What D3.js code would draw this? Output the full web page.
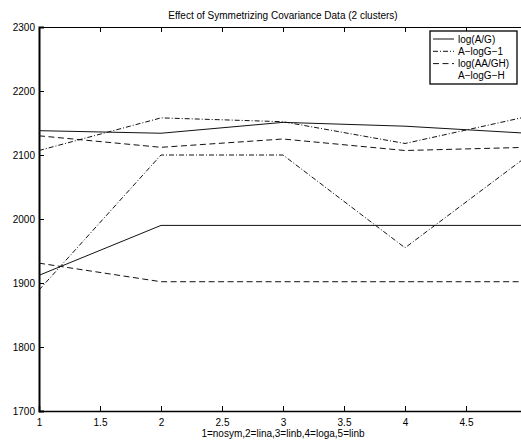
<!DOCTYPE html>
<html><head><meta charset="utf-8">
<script src="https://cdn.jsdelivr.net/npm/d3@7"></script>
<style>body{margin:0;background:#fff;} svg{display:block;}</style>
</head><body>
<script>
const title = "Effect of Symmetrizing Covariance Data (2 clusters)";
const xLabel = "1=nosym,2=lina,3=linb,4=loga,5=linb";
const xValues = [1, 2, 3, 4, 5];
const xTicks = [1, 1.5, 2, 2.5, 3, 3.5, 4, 4.5];
const yTicks = [1700, 1800, 1900, 2000, 2100, 2200, 2300];
const legendNames = ["log(A/G)", "A\u2212logG\u22121", "log(AA/GH)", "A\u2212logG\u2212H"];
const legendStyles = ["solid", "dashdot", "dashed", "none"];
const seriesSolidTop    = [2138, 2134, 2151, 2145, 2134];
const seriesDashDotTop  = [2107, 2158, 2152, 2118, 2160];
const seriesDashedTop   = [2130, 2112, 2125, 2107, 2112];
const seriesDashDotLow  = [1889, 2100, 2100, 1955, 2098];
const seriesSolidLow    = [1912, 1990, 1990, 1990, 1990];
const seriesDashedLow   = [1931, 1902, 1902, 1902, 1902];
const seriesList = [
  {values: seriesSolidTop, style: "solid"},
  {values: seriesDashDotTop, style: "dashdot"},
  {values: seriesDashedTop, style: "dashed"},
  {values: seriesDashDotLow, style: "dashdot"},
  {values: seriesSolidLow, style: "solid"},
  {values: seriesDashedLow, style: "dashed"}
];
const dashes = {solid: null, dashdot: "5,2,1,2", dashed: "6,3.5", none: null};

(function () {
const W = 521, H = 441;
const mLeft = 39, mRight = 527, mTop = 27, mBottom = 411;
const svg = d3.select("body").append("svg").attr("width", W).attr("height", H)
  .style("font-family", "'Liberation Sans', Arial, Helvetica, sans-serif");

const x = d3.scaleLinear().domain([1, 5]).range([mLeft, mRight]);
const y = d3.scaleLinear().domain([1700, 2300]).range([mBottom, mTop]);

svg.append("defs").append("clipPath").attr("id", "clip")
  .append("rect").attr("x", mLeft).attr("y", mTop).attr("width", mRight - mLeft).attr("height", mBottom - mTop);

// axes
const xAxis = d3.axisBottom(x).tickValues(xTicks).tickSize(-5).tickPadding(8).tickFormat(d3.format("~g"));
const gx = svg.append("g").attr("transform", `translate(0,${mBottom})`).call(xAxis);
const xAxisTop = d3.axisTop(x).tickValues(xTicks).tickSize(-5).tickFormat("");
const gxt = svg.append("g").attr("transform", `translate(0,${mTop})`).call(xAxisTop);
const yAxis = d3.axisLeft(y).tickValues(yTicks).tickSize(-5).tickPadding(4).tickFormat(d3.format("d"));
const gy = svg.append("g").attr("transform", `translate(${mLeft},0)`).call(yAxis);
[gx, gxt, gy].forEach(g => {
  g.select(".domain").attr("stroke", "#000").attr("stroke-width", 1);
  g.selectAll(".tick line").attr("stroke", "#000").attr("stroke-width", 1);
  g.selectAll(".tick text").attr("fill", "#000").style("font-size", "10px")
    .style("font-family", "'Liberation Sans', Arial, Helvetica, sans-serif");
});
gy.select(".domain").attr("stroke-width", 2);
gx.select(".domain").attr("stroke-width", 1.5);
gy.selectAll(".tick text").attr("x", -4);

// lines
const line = d3.line().x((d, i) => x(xValues[i])).y(d => y(d));
const plot = svg.append("g").attr("clip-path", "url(#clip)");
seriesList.forEach(s => {
  plot.append("path").datum(s.values).attr("d", line)
    .attr("fill", "none").attr("stroke", "#111").attr("stroke-width", 1)
    .attr("stroke-dasharray", dashes[s.style]);
});

// title and label
svg.append("text").attr("x", (mLeft + mRight) / 2).attr("y", 19).attr("text-anchor", "middle")
  .style("font-size", "10px").text(title);
svg.append("text").attr("x", (mLeft + mRight) / 2).attr("y", 437).attr("text-anchor", "middle")
  .style("font-size", "10px").text(xLabel);

// legend
const lg = svg.append("g");
lg.append("rect").attr("x", 430).attr("y", 31).attr("width", 87).attr("height", 53)
  .attr("fill", "#fff").attr("stroke", "#000").attr("stroke-width", 1.3);
legendNames.forEach((n, i) => {
  const cy = 39 + i * 12.3;
  if (legendStyles[i] !== "none") {
    lg.append("line").attr("x1", 433).attr("x2", 454).attr("y1", cy).attr("y2", cy)
      .attr("stroke", "#111").attr("stroke-width", 1)
      .attr("stroke-dasharray", dashes[legendStyles[i]]);
  }
  lg.append("text").attr("x", 458).attr("y", cy + 3.5).style("font-size", "10px").text(n);
});
})();
</script>
</body></html>
